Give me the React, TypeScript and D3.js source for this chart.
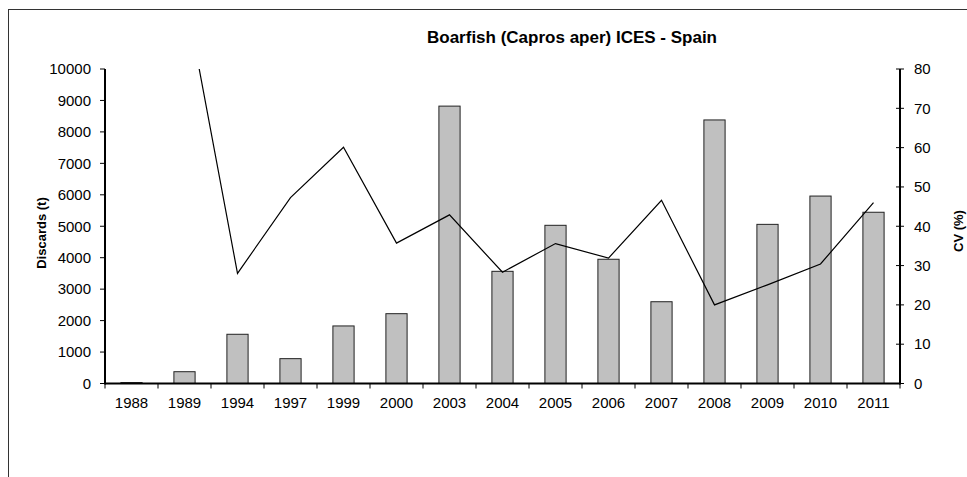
import * as d3 from 'd3';

const years = ['1988', '1989', '1994', '1997', '1999', '2000', '2003', '2004', '2005', '2006', '2007', '2008', '2009', '2010', '2011'];
const discards = [30, 375, 1565, 790, 1830, 2220, 8820, 3567, 5030, 3950, 2600, 8380, 5060, 5960, 5445];
const cv: (number | null)[] = [null, 100, 28, 47.3, 60.1, 35.7, 42.9, 28.3, 35.6, 31.9, 46.6, 20, 25.1, 30.4, 46];
const leftTicks = [0, 1000, 2000, 3000, 4000, 5000, 6000, 7000, 8000, 9000, 10000];
const rightTicks = [0, 10, 20, 30, 40, 50, 60, 70, 80];

const W = 967;
const H = 477;
const font = 'Arial, "Liberation Sans", Helvetica, sans-serif';

export default function App() {
  const margin = { left: 105, right: 900, top: 69, bottom: 383.5 };

  const x = d3.scaleBand<string>().domain(years).range([margin.left, margin.right]).paddingInner(0.6).paddingOuter(0.3);
  const y = d3.scaleLinear().domain([0, 10000]).range([margin.bottom, margin.top]);
  const yR = d3.scaleLinear().domain([0, 80]).range([margin.bottom, margin.top]);

  const step = x.step();
  const cx = (yr: string) => (x(yr) ?? 0) + x.bandwidth() / 2;

  const line = d3
    .line<number | null>()
    .defined((d) => d != null)
    .x((_, i) => cx(years[i]))
    .y((d) => yR(d as number));

  // category boundaries for the x tick marks
  const bounds = d3.range(years.length + 1).map((i) => margin.left + i * step);

  return (
    <svg width={W} height={H} style={{ position: 'absolute', left: 0, top: 0, background: '#fff' }} fontFamily={font}>
      <defs>
        <clipPath id="plot">
          <rect x={margin.left} y={margin.top} width={margin.right - margin.left} height={margin.bottom - margin.top} />
        </clipPath>
      </defs>

      {/* chart frame */}
      <rect x={8.5} y={9.5} width={W} height={H} fill="none" stroke="#333" strokeWidth={1} />

      <text x={572} y={43} textAnchor="middle" fontSize={17} fontWeight="bold">
        Boarfish (Capros aper) ICES - Spain
      </text>

      {/* bars */}
      {years.map((yr, i) => (
        <rect
          key={yr}
          x={x(yr)}
          y={y(discards[i])}
          width={x.bandwidth()}
          height={margin.bottom - y(discards[i])}
          fill="#c0c0c0"
          stroke="#222"
          strokeWidth={1}
        />
      ))}

      {/* CV line */}
      <path d={line(cv) ?? ''} fill="none" stroke="#000" strokeWidth={1.2} clipPath="url(#plot)" />

      {/* left axis */}
      <line x1={margin.left} x2={margin.left} y1={margin.top} y2={margin.bottom + 1} stroke="#000" strokeWidth={2} />
      {leftTicks.map((t) => (
        <g key={t}>
          <line x1={margin.left - 5} x2={margin.left} y1={y(t)} y2={y(t)} stroke="#000" strokeWidth={1} />
          <text x={91} y={y(t)} dy="0.35em" textAnchor="end" fontSize={15}>
            {t}
          </text>
        </g>
      ))}

      {/* right axis */}
      <line x1={margin.right} x2={margin.right} y1={margin.top} y2={margin.bottom + 1} stroke="#000" strokeWidth={2} />
      {rightTicks.map((t) => (
        <g key={t}>
          <line x1={margin.right - 4} x2={margin.right + 4} y1={yR(t)} y2={yR(t)} stroke="#000" strokeWidth={1} />
          <text x={914} y={yR(t)} dy="0.35em" textAnchor="start" fontSize={15}>
            {t}
          </text>
        </g>
      ))}

      {/* x axis */}
      <line x1={margin.left} x2={margin.right} y1={margin.bottom} y2={margin.bottom} stroke="#000" strokeWidth={2} />
      {bounds.map((b, i) => (
        <line key={i} x1={b} x2={b} y1={margin.bottom} y2={margin.bottom + 5} stroke="#000" strokeWidth={1} />
      ))}
      {years.map((yr) => (
        <text key={yr} x={cx(yr)} y={408} textAnchor="middle" fontSize={15}>
          {yr}
        </text>
      ))}

      {/* axis titles */}
      <text transform="translate(46,233) rotate(-90)" textAnchor="middle" fontSize={13} fontWeight="bold">
        Discards (t)
      </text>
      <text transform="translate(963,231) rotate(-90)" textAnchor="middle" fontSize={13} fontWeight="bold">
        CV (%)
      </text>
    </svg>
  );
}
